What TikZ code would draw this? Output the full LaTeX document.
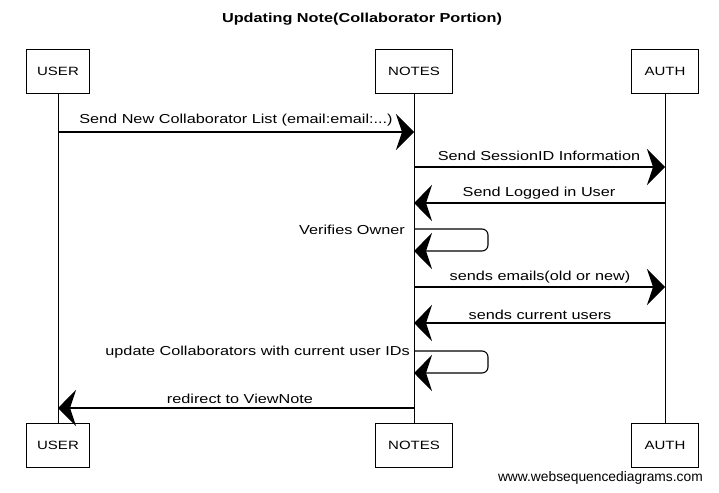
\documentclass[tikz,border=0pt]{standalone}
\usepackage{fontspec}
\setmainfont{Liberation Sans}[FakeStretch=1.25]
\newfontfamily\wmfont{Liberation Sans}
\usetikzlibrary{arrows.meta}
\begin{document}
\begin{tikzpicture}[x=1pt,y=-1pt,
  actor/.style={draw,line width=0.9pt,minimum height=44pt,inner sep=0pt,font=\fontsize{12}{14}\selectfont},
  life/.style={line width=0.8pt},
  msg/.style={line width=1.1pt,-{Stealth[length=18pt,width=36pt,inset=6pt]}},
  lbl/.style={font=\fontsize{13}{15}\selectfont,inner sep=0pt}]
\useasboundingbox (0,0) rectangle (719,492);
\node[font=\bfseries\fontsize{13}{15}\selectfont,inner sep=0pt] (title) at (362,19) {Updating Note(Collaborator Portion)};
% actors
\node[actor,minimum width=63pt] (u1) at (58,71) {USER};
\node[actor,minimum width=77pt] (n1) at (414,71) {NOTES};
\node[actor,minimum width=67pt] (a1) at (665,71) {AUTH};
\node[actor,minimum width=63pt] (u2) at (58,445) {USER};
\node[actor,minimum width=77pt] (n2) at (414,445) {NOTES};
\node[actor,minimum width=67pt] (a2) at (665,445) {AUTH};
\draw[life] (u1.south) -- (u2.north);
\draw[life] (n1.south) -- (n2.north);
\draw[life] (a1.south) -- (a2.north);
% lifeline points
\coordinate (u132) at (58,132);
\coordinate (n132) at (414,132);
\coordinate (n167) at (414,167);
\coordinate (a167) at (665,167);
\coordinate (a203) at (665,203);
\coordinate (n203) at (414,203);
\coordinate (n229) at (414,229);
\coordinate (n251) at (414,251);
\coordinate (n287) at (414,287);
\coordinate (a287) at (665,287);
\coordinate (a323) at (665,323);
\coordinate (n323) at (414,323);
\coordinate (n351) at (414,351);
\coordinate (n373) at (414,373);
\coordinate (n408) at (414,408);
\coordinate (u408) at (58,408);
% messages
\draw[msg] (u132) -- (n132);
\node[lbl] (l1) at (236,120) {Send New Collaborator List (email:email:...)};
\draw[msg] (n167) -- (a167);
\node[lbl] (l2) at (539,156) {Send SessionID Information};
\draw[msg] (a203) -- (n203);
\node[lbl] (l3) at (539,193) {Send Logged in User};
\draw[msg,rounded corners=6pt] (n229) -- (488,229) -- (488,251) -- (n251);
\node[lbl,anchor=east] (l4) at (405,230) {Verifies Owner};
\draw[msg] (n287) -- (a287);
\node[lbl] (l5) at (540,277) {sends emails(old or new)};
\draw[msg] (a323) -- (n323);
\node[lbl] (l6) at (540,315) {sends current users};
\draw[msg,rounded corners=6pt] (n351) -- (488,351) -- (488,373) -- (n373);
\node[lbl,anchor=east] (l7) at (410,352) {update Collaborators with current user IDs};
\draw[msg] (n408) -- (u408);
\node[lbl] (l8) at (240,399) {redirect to ViewNote};
\node[font=\wmfont\fontsize{13.8}{16}\selectfont,anchor=east,inner sep=0pt] (wm) at (703,478) {www.websequencediagrams.com};
\end{tikzpicture}
\end{document}
